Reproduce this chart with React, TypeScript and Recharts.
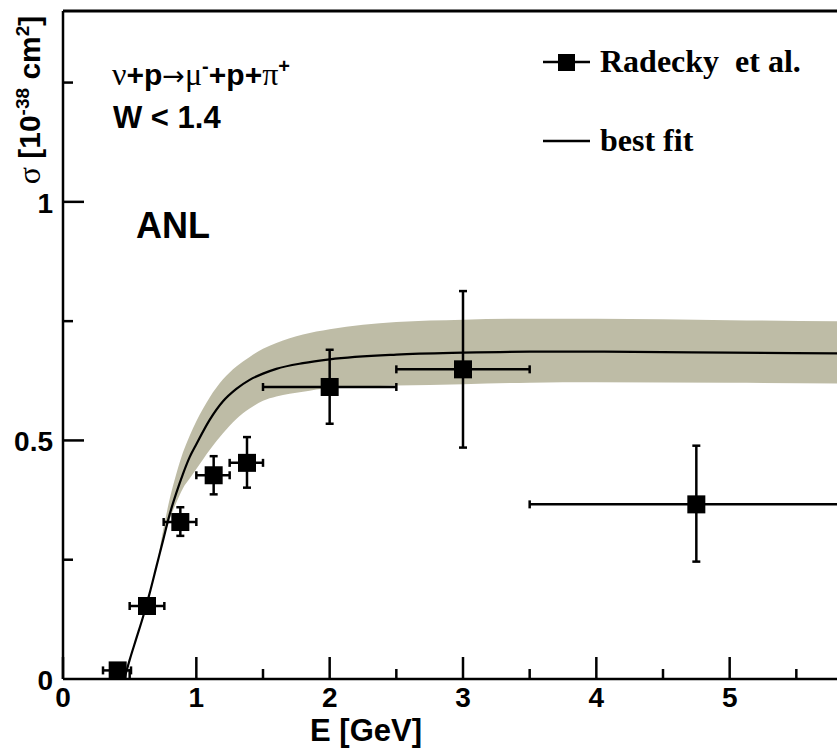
import React from "react";
import { ComposedChart, Area, Line, Scatter, XAxis, YAxis, ErrorBar, Legend, ReferenceLine } from "recharts";

// Radecky et al. (ANL), nu + p -> mu- + p + pi+, W < 1.4
const radE = [0.41, 0.63, 0.88, 1.13, 1.38, 2.0, 3.0, 4.75];
const radSigma = [0.018, 0.153, 0.329, 0.427, 0.453, 0.612, 0.649, 0.366];
const radSigmaLo = [0, 0, 0.029, 0.04, 0.052, 0.077, 0.164, 0.12];
const radSigmaHi = [0, 0, 0.031, 0.04, 0.054, 0.078, 0.164, 0.123];
const radELo = [0.11, 0.13, 0.125, 0.13, 0.13, 0.5, 0.5, 1.25];
const radEHi = [0.1, 0.13, 0.12, 0.12, 0.12, 0.5, 0.5, 1.25];

// best fit curve and its error band
const fitE = [0.46, 0.5, 0.55, 0.6, 0.65, 0.7, 0.75, 0.8, 0.85, 0.9, 0.95, 1.0, 1.1, 1.2, 1.3, 1.4, 1.5, 1.6, 1.8, 2.0, 2.5, 3.0, 3.5, 4.0, 5.0, 6.0];
const fitSigma = [0, 0.04, 0.085, 0.13, 0.18, 0.235, 0.29, 0.345, 0.39, 0.43, 0.465, 0.492, 0.543, 0.582, 0.608, 0.627, 0.64, 0.65, 0.662, 0.67, 0.68, 0.684, 0.686, 0.686, 0.684, 0.682];
const bandLo = [0, 0.04, 0.085, 0.13, 0.18, 0.235, 0.29, 0.335, 0.37, 0.4, 0.42, 0.44, 0.48, 0.515, 0.545, 0.567, 0.583, 0.592, 0.602, 0.61, 0.615, 0.618, 0.621, 0.622, 0.621, 0.619];
const bandHi = [0, 0.04, 0.085, 0.13, 0.18, 0.235, 0.31, 0.377, 0.43, 0.475, 0.51, 0.54, 0.59, 0.628, 0.655, 0.675, 0.692, 0.704, 0.722, 0.733, 0.748, 0.753, 0.755, 0.755, 0.752, 0.749];

const xTicks = [0, 0.5, 1, 1.5, 2, 2.5, 3, 3.5, 4, 4.5, 5, 5.5, 6];
const yTicks = [0, 0.25, 0.5, 0.75, 1, 1.25];
const yTickLabels: Record<number, string> = { 0: "0", 0.5: "0.5", 1: "1" };

const points = radE.map((e, i) => ({
  e,
  sigma: radSigma[i],
  sigmaErr: [radSigmaLo[i], radSigmaHi[i]],
  eErr: [radELo[i], radEHi[i]],
}));
const fit = fitE.map((e, i) => ({ e, fit: fitSigma[i], band: [bandLo[i], bandHi[i]] }));

const SANS = "'Liberation Sans', Arial, sans-serif";
const SERIF = "'Liberation Serif', 'Times New Roman', serif";

function XTick({ x, y, payload }: any) {
  const v = payload.value;
  const major = Number.isInteger(v);
  return (
    <g>
      <line x1={x} x2={x} y1={y} y2={y - (major ? 22 : 10)} stroke="#000" strokeWidth={2.5} />
      {major && v < 6 && (
        <text x={x} y={y + 28} textAnchor="middle" fontFamily={SANS} fontWeight={700} fontSize={28} fill="#000">
          {v}
        </text>
      )}
    </g>
  );
}

function YTick({ x, y, payload }: any) {
  const v = payload.value;
  const label = yTickLabels[v];
  if (v === 0) {
    return (
      <text x={x - 10} y={y + 11} textAnchor="end" fontFamily={SANS} fontWeight={700} fontSize={28} fill="#000">0</text>
    );
  }
  return (
    <g>
      <line x1={x} x2={x + (label ? 21 : 10)} y1={y} y2={y} stroke="#000" strokeWidth={2.5} />
      {label && (
        <text x={x - 10} y={y + 11} textAnchor="end" fontFamily={SANS} fontWeight={700} fontSize={28} fill="#000">
          {label}
        </text>
      )}
    </g>
  );
}

function YLabel() {
  return (
    <text transform="rotate(-90)" x={-100} y={40} textAnchor="middle" fontFamily={SANS} fontWeight={700} fontSize={30} fill="#000">
      <tspan fontFamily={SERIF} fontWeight={400} fontSize={32}>σ</tspan>
      <tspan> [10</tspan>
      <tspan fontSize={19} dy={-11}>-38</tspan>
      <tspan dy={11}> cm</tspan>
      <tspan fontSize={19} dy={-11}>2</tspan>
      <tspan dy={11}>]</tspan>
    </text>
  );
}

function LegendBox() {
  return (
    <svg width={295} height={180}>
      <line x1={1} x2={48} y1={62} y2={62} stroke="#000" strokeWidth={2.5} />
      <rect x={16} y={54} width={17} height={17} fill="#000" />
      <text x={58} y={72} fontFamily={SERIF} fontWeight={700} fontSize={32} fill="#000" style={{ whiteSpace: "pre" }}>
        Radecky  et al.
      </text>
      <line x1={1} x2={48} y1={141} y2={141} stroke="#000" strokeWidth={2.5} />
      <text x={58} y={151} fontFamily={SERIF} fontWeight={700} fontSize={32} fill="#000">best fit</text>
    </svg>
  );
}

export default function App() {
  return (
    <div style={{ position: "fixed", left: 0, top: 0, width: 837, height: 749, overflow: "hidden", background: "#fff" }}>
      <ComposedChart width={863} height={749} margin={{ top: 11, right: 0, bottom: 0, left: 0 }}>
        <XAxis
          type="number"
          dataKey="e"
          domain={[0, 6]}
          ticks={xTicks}
          interval={0}
          height={70}
          tickSize={0}
          tickMargin={0}
          tickLine={false}
          axisLine={{ stroke: "#000", strokeWidth: 2.5 }}
          tick={<XTick />}
        />
        <YAxis
          type="number"
          domain={[0, 1.4]}
          ticks={yTicks}
          interval={0}
          width={63}
          tickSize={0}
          tickMargin={0}
          tickLine={false}
          axisLine={{ stroke: "#000", strokeWidth: 2.5 }}
          tick={<YTick />}
          label={{ content: <YLabel /> }}
        />
        <Area
          data={fit}
          dataKey="band"
          type="monotone"
          fill="#bebca6"
          fillOpacity={1}
          stroke="none"
          isAnimationActive={false}
        />
        <Line data={fit} dataKey="fit" type="monotone" stroke="#000" strokeWidth={2.2} dot={false} isAnimationActive={false} />
        <Scatter
          data={points}
          dataKey="sigma"
          isAnimationActive={false}
          shape={(p: any) => <rect x={p.cx - 9} y={p.cy - 9} width={18} height={18} fill="#000" />}
        >
          <ErrorBar dataKey="sigmaErr" direction="y" width={4} strokeWidth={2.5} stroke="#000" isAnimationActive={false} />
          <ErrorBar dataKey="eErr" direction="x" width={4} strokeWidth={2.5} stroke="#000" isAnimationActive={false} />
        </Scatter>
        <ReferenceLine y={1.4} stroke="#000" strokeWidth={3} />
        <Legend
          layout="horizontal"
          verticalAlign="middle"
          content={<LegendBox />}
          wrapperStyle={{ left: 542, top: 0, width: 295, height: 180 }}
        />
      </ComposedChart>
      <svg width={837} height={749} style={{ position: "absolute", left: 0, top: 0, pointerEvents: "none" }}>
        <text x={112} y={85} fontFamily={SANS} fontWeight={700} fontSize={30} fill="#000">
          <tspan fontFamily={SERIF} fontWeight={400} fontSize={32}>ν</tspan>
          <tspan>+p</tspan>
          <tspan fontFamily="'DejaVu Sans', sans-serif" fontWeight={400} fontSize={27}>→</tspan>
          <tspan fontFamily={SERIF} fontWeight={400} fontSize={32}>μ</tspan>
          <tspan fontSize={20} dy={-12}>-</tspan>
          <tspan dy={12}>+p+</tspan>
          <tspan fontFamily={SERIF} fontWeight={400} fontSize={32}>π</tspan>
          <tspan fontSize={20} dy={-12}>+</tspan>
        </text>
        <text x={113} y={128} fontFamily={SANS} fontWeight={700} fontSize={31} fill="#000">W &lt; 1.4</text>
        <text x={136} y={238} fontFamily={SANS} fontWeight={700} fontSize={36} fill="#000">ANL</text>
        <text x={366} y={741} textAnchor="middle" fontFamily={SANS} fontWeight={700} fontSize={31} fill="#000">E [GeV]</text>
      </svg>
    </div>
  );
}
